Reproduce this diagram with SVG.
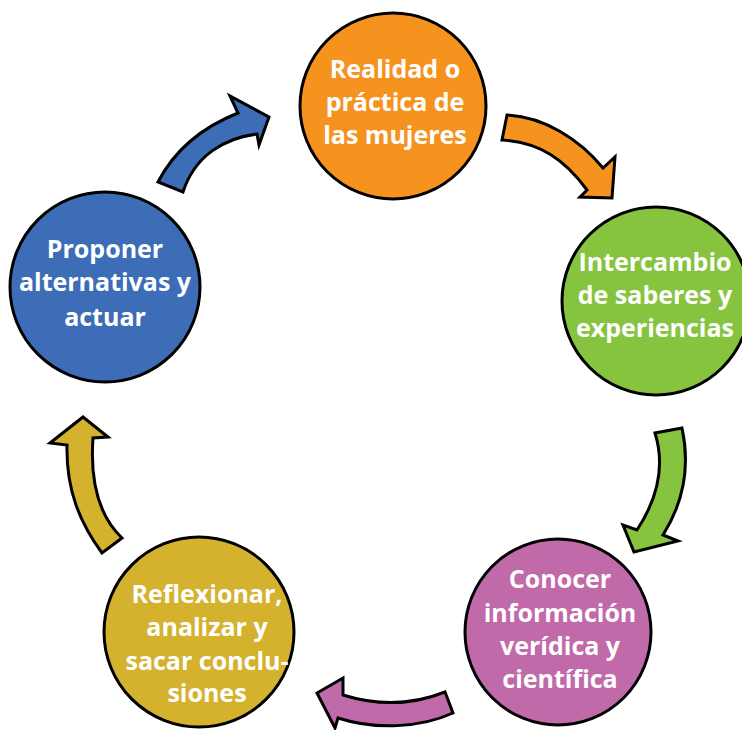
<svg xmlns="http://www.w3.org/2000/svg" width="742" height="730" viewBox="0 0 742 730">
<style>
.c{stroke:#000;stroke-width:3}
.a{stroke:#000;stroke-width:3;stroke-linejoin:miter}
.t{font-family:"Open Sans",Lato,"Liberation Sans",sans-serif;font-weight:700;font-size:25px;fill:#fff;text-anchor:middle}
.or{fill:#f6931f}.gr{fill:#86c440}.pu{fill:#c06aa9}.ye{fill:#d4b22d}.bl{fill:#3c6db6}
</style>
<rect width="742" height="730" fill="#fff"/>
<g id="connectors">
<path class="a bl" d="M158,182 C172,155 195,130 238,113 L230,96 L269,117 L259,145 L257,134 C225,138 195,155 183,192 Z"/>
<path class="a or" d="M507,115 C545,117 580,140 603,168 L615,157 L612,198 L580,197 L587,190 C565,160 540,142 502,140 Z"/>
<path class="a gr" d="M682,428 C690,465 685,500 663,535 L678,541 L634,552 L623,525 L637,530 C658,498 665,465 655,433 Z"/>
<path class="a pu" d="M445,692 C410,706 375,705 343,695 L343,678 L317,693 L335,728 L338,718 C375,730 420,728 453,713 Z"/>
<path class="a ye" d="M102,553 C80,523 66,490 67,445 L50,443 L83,417 L108,437 L93,438 C90,480 98,515 122,538 Z"/>
</g>
<g id="n1">
<circle class="c or" cx="393" cy="106" r="93"/>
<text class="t"><tspan x="395" y="78">Realidad o</tspan><tspan x="395" y="111">práctica de</tspan><tspan x="395" y="144">las mujeres</tspan></text>
</g>
<g id="n2">
<circle class="c gr" cx="656" cy="301" r="94"/>
<text class="t"><tspan x="655" y="271">Intercambio</tspan><tspan x="655" y="304">de saberes y</tspan><tspan x="655" y="337">experiencias</tspan></text>
</g>
<g id="n3">
<circle class="c pu" cx="558" cy="632" r="93"/>
<text class="t"><tspan x="560" y="588">Conocer</tspan><tspan x="560" y="622">información</tspan><tspan x="560" y="655">verídica y</tspan><tspan x="560" y="688">científica</tspan></text>
</g>
<g id="n4">
<circle class="c ye" cx="199" cy="632" r="95"/>
<text class="t"><tspan x="207" y="603">Reflexionar,</tspan><tspan x="207" y="636">analizar y</tspan><tspan x="207" y="670">sacar conclu-</tspan><tspan x="207" y="702">siones</tspan></text>
</g>
<g id="n5">
<circle class="c bl" cx="105" cy="287" r="95"/>
<text class="t"><tspan x="105" y="258">Proponer</tspan><tspan x="105" y="291">alternativas y</tspan><tspan x="105" y="326">actuar</tspan></text>
</g>
</svg>
